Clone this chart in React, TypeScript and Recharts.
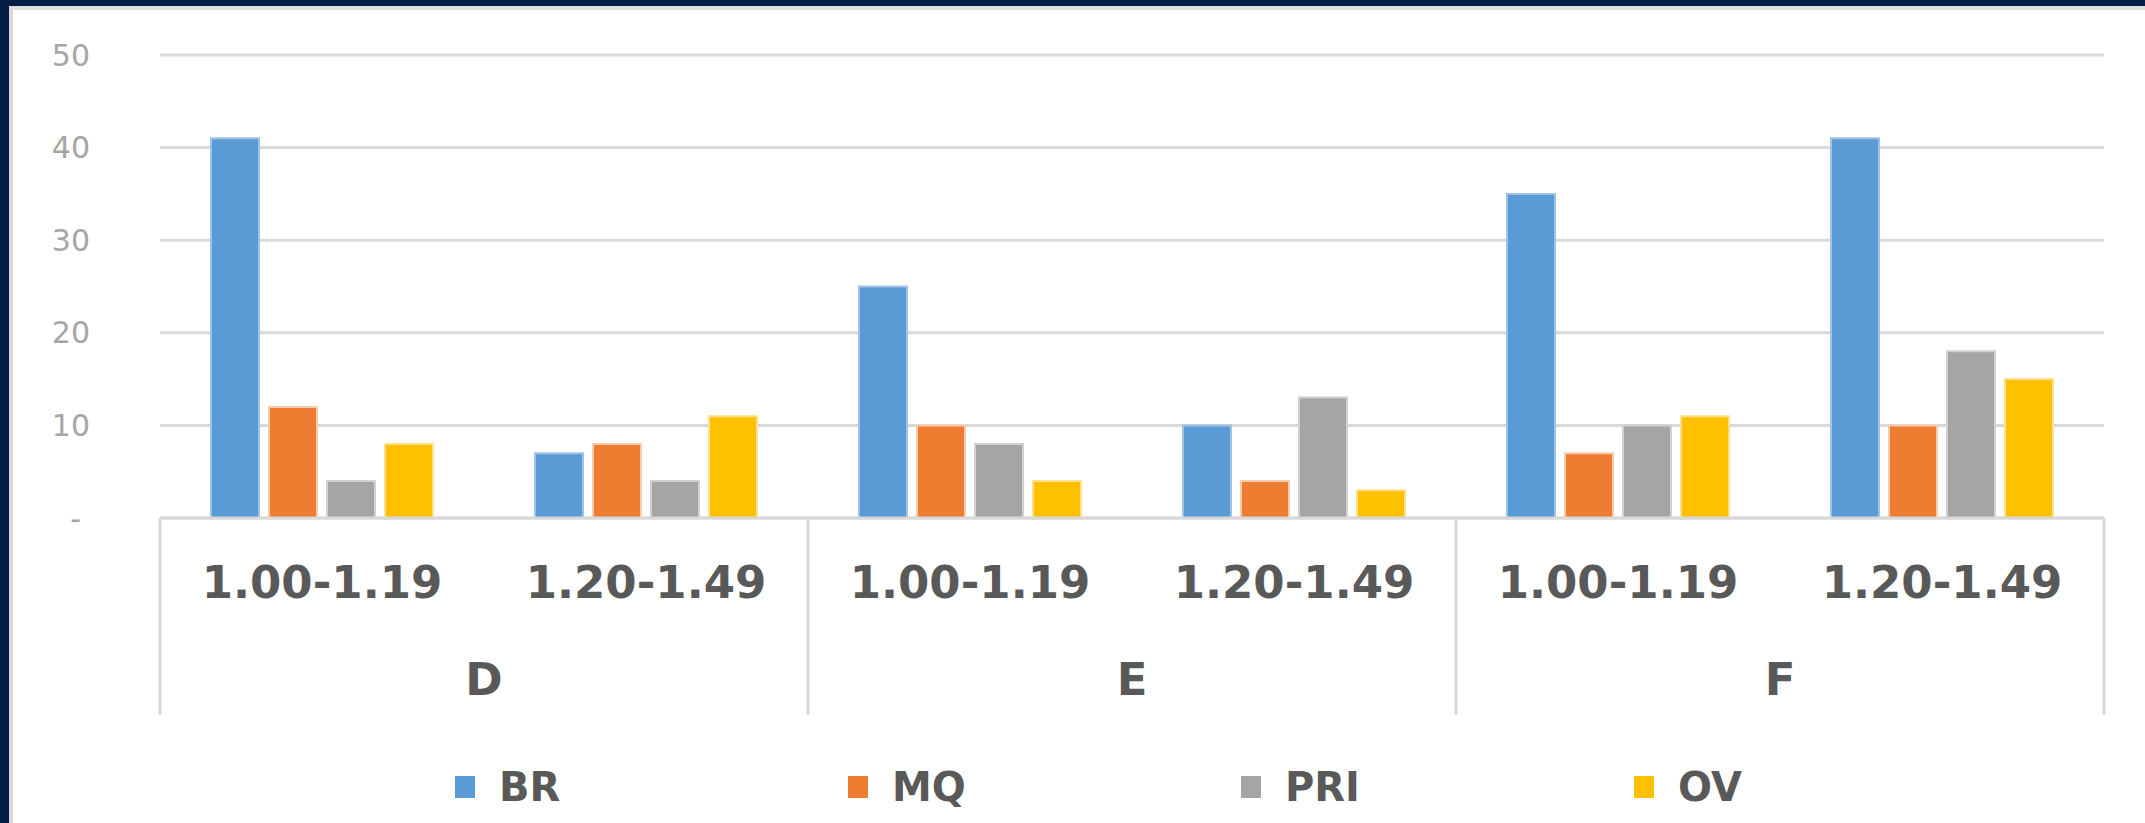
import React from 'react';
import {
  BarChart,
  Bar,
  XAxis,
  YAxis,
  CartesianGrid,
  Legend,
} from 'recharts';

const groups = ['D', 'E', 'F'];
const ranges = ['1.00-1.19', '1.20-1.49'];
const seriesNames = ['BR', 'MQ', 'PRI', 'OV'];
const brValues = [41, 7, 25, 10, 35, 41];
const mqValues = [12, 8, 10, 4, 7, 10];
const priValues = [4, 4, 8, 13, 10, 18];
const ovValues = [8, 11, 4, 3, 11, 15];
const yTicks = [0, 10, 20, 30, 40, 50];

const colors: Record<string, string> = {
  BR: '#5b9bd5',
  MQ: '#ed7d31',
  PRI: '#a5a5a5',
  OV: '#ffc000',
};
const edges: Record<string, string> = {
  BR: '#9dc3e6',
  MQ: '#f8cbad',
  PRI: '#d0d0d0',
  OV: '#ffe08a',
};

const chartData = groups.flatMap((group, gi) =>
  ranges.map((range, ri) => {
    const i = gi * ranges.length + ri;
    return {
      group,
      range,
      BR: brValues[i],
      MQ: mqValues[i],
      PRI: priValues[i],
      OV: ovValues[i],
    };
  })
);

const W = 2145;
const H = 823;
const margin = { top: 55, right: 41, bottom: 0, left: 0 };
const Y_AXIS_W = 160;
const PLOT_W = W - margin.left - margin.right - Y_AXIS_W;
const SUB_AXIS_H = 100;
const GROUP_AXIS_H = 97;
const SUB_OFFSET = 48;
const LINE = '#d9d9d9';
const TEXT = '#595959';
const FONT = '"DejaVu Sans", sans-serif';

const YTick = (props: any) => {
  const { x, y, payload } = props;
  const isZero = payload.value === 0;
  return (
    <text
      x={isZero ? x - 9 : x}
      y={y}
      dy="0.35em"
      textAnchor="end"
      fill="#a6a6a6"
      fontSize={30}
      fontFamily={FONT}
    >
      {isZero ? '-' : payload.value}
    </text>
  );
};

const RangeTick = (props: any) => {
  const { x, y, payload, index } = props;
  const bw = PLOT_W / chartData.length;
  const top = y - SUB_OFFSET;
  const bottom = top + SUB_AXIS_H + GROUP_AXIS_H;
  return (
    <g>
      {index % ranges.length === 0 && (
        <line x1={x - bw / 2} x2={x - bw / 2} y1={top} y2={bottom} stroke={LINE} strokeWidth={3} />
      )}
      {index === chartData.length - 1 && (
        <line x1={x + bw / 2} x2={x + bw / 2} y1={top} y2={bottom} stroke={LINE} strokeWidth={3} />
      )}
      <text
        x={x}
        y={y}
        dy="0.71em"
        textAnchor="middle"
        fill={TEXT}
        fontSize={45}
        fontWeight="bold"
        fontFamily={FONT}
      >
        {payload.value}
      </text>
    </g>
  );
};

const GroupTick = (props: any) => {
  const { x, y, payload } = props;
  return (
    <text
      x={x}
      y={y}
      dy="0.71em"
      textAnchor="middle"
      fill={TEXT}
      fontSize={45}
      fontWeight="bold"
      fontFamily={FONT}
    >
      {payload.value}
    </text>
  );
};

const LegendContent = () => (
  <div
    style={{
      height: 108,
      display: 'flex',
      alignItems: 'center',
      paddingTop: 36,
      boxSizing: 'border-box',
      paddingLeft: 455,
      fontFamily: FONT,
      fontSize: 40,
      fontWeight: 'bold',
      color: TEXT,
    }}
  >
    {seriesNames.map((name) => (
      <div key={name} style={{ display: 'flex', alignItems: 'center', gap: 24, width: 393 }}>
        <span style={{ width: 20, height: 22, background: colors[name], display: 'inline-block' }} />
        <span>{name}</span>
      </div>
    ))}
  </div>
);

export default function App() {
  return (
    <div
      style={{
        position: 'absolute',
        left: 0,
        top: 0,
        width: W,
        height: H,
        background: '#021c45',
        overflow: 'hidden',
      }}
    >
      <div
        style={{
          position: 'absolute',
          left: 9,
          top: 6,
          width: W - 9,
          height: H - 6,
          boxSizing: 'border-box',
          background: '#ffffff',
          borderLeft: '4px solid #d9d9d9',
          borderTop: '4px solid #dedede',
        }}
      />
      <div style={{ position: 'absolute', left: 0, top: 0 }}>
        <BarChart
          width={W}
          height={H}
          data={chartData}
          margin={margin}
          barCategoryGap={51}
          barGap={10}
        >
          <CartesianGrid vertical={false} stroke={LINE} strokeWidth={3} />
          <XAxis
            dataKey="range"
            height={SUB_AXIS_H}
            tick={<RangeTick />}
            tickLine={false}
            tickSize={0}
            tickMargin={SUB_OFFSET}
            axisLine={{ stroke: LINE, strokeWidth: 3 }}
            interval={0}
          />
          <XAxis
            dataKey="group"
            xAxisId="group"
            allowDuplicatedCategory={false}
            height={GROUP_AXIS_H}
            tick={<GroupTick />}
            tickLine={false}
            tickSize={0}
            tickMargin={45}
            axisLine={false}
            interval={0}
          />
          <YAxis
            width={Y_AXIS_W}
            domain={[0, 50]}
            ticks={yTicks}
            tick={<YTick />}
            tickLine={false}
            tickSize={0}
            tickMargin={70}
            axisLine={false}
            interval={0}
          />
          <Legend
            verticalAlign="bottom"
            content={<LegendContent />}
            wrapperStyle={{ left: 0, width: W, bottom: 0 }}
          />
          {seriesNames.map((name) => (
            <Bar
              key={name}
              dataKey={name}
              fill={colors[name]}
              stroke={edges[name]}
              strokeWidth={2}
              isAnimationActive={false}
            />
          ))}
        </BarChart>
      </div>
    </div>
  );
}
